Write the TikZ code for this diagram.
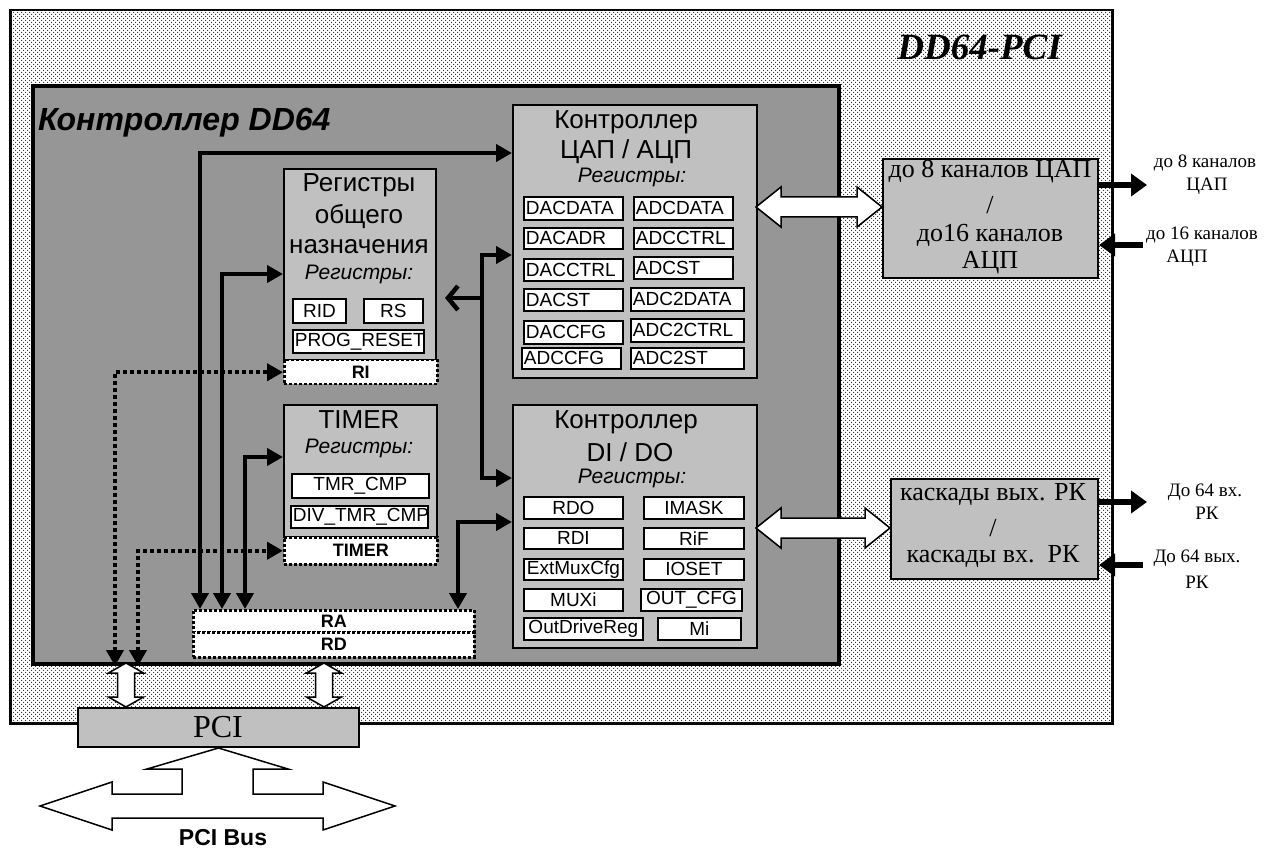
\documentclass[tikz,border=0pt]{standalone}
\usepackage{fontspec}
\newfontfamily\fsans{Liberation Sans}
\newfontfamily\fserif{Liberation Serif}
\usetikzlibrary{arrows.meta,patterns.meta}
\definecolor{ctrlgray}{HTML}{969696}
\definecolor{blkgray}{HTML}{C0C0C0}
\newcommand\regbox[7]{%
  \node[reg,anchor=north west,minimum height={(#5-#3)*1pt},text width={(#4-#2-4)*1pt},align=#6] (#1) at (#2,#3) {#7};}
\newcommand\dblH[3]{%
  \draw[warr] (#1,#3) -- (#1+25,#3-20) -- (#1+25,#3-10) -- (#2-25,#3-10) -- (#2-25,#3-20) -- (#2,#3)
   -- (#2-25,#3+20) -- (#2-25,#3+10) -- (#1+25,#3+10) -- (#1+25,#3+20) -- cycle;}
\newcommand\dblV[3]{%
  \draw[warr] (#1,#2) -- (#1+17.5,#2+10) -- (#1+8.5,#2+10) -- (#1+8.5,#3-10) -- (#1+17.5,#3-10) -- (#1,#3)
   -- (#1-17.5,#3-10) -- (#1-8.5,#3-10) -- (#1-8.5,#2+10) -- (#1-17.5,#2+10) -- cycle;}
\begin{document}
\begin{tikzpicture}[x=1pt,y=-1pt,
  boardbox/.style={draw,line width=2.5pt,fill=white,
    postaction={pattern={Dots[distance=4pt,radius=0.75pt]},pattern color=black!85},
    postaction={pattern={Dots[distance=4pt,radius=0.75pt,xshift=2pt,yshift=2pt]},pattern color=black!85}},
  ctrl/.style={draw,fill=ctrlgray,line width=4pt},
  blk/.style={draw,fill=blkgray,line width=2pt},
  reg/.style={draw,fill=white,line width=1.8pt,inner xsep=2pt,inner ysep=0pt,font=\fsans\fontsize{19pt}{21pt}\selectfont},
  dbox/.style={draw,fill=white,line width=2.5pt,dash pattern=on 3pt off 2pt,inner sep=0pt,font=\fsans\bfseries\fontsize{18pt}{20pt}\selectfont},
  ttl/.style={font=\fsans\fontsize{26pt}{30pt}\selectfont,inner sep=0pt},
  regs/.style={font=\fsans\itshape\fontsize{21pt}{24pt}\selectfont,inner sep=0pt},
  rtxt/.style={font=\fserif\fontsize{26pt}{30pt}\selectfont,inner sep=0pt},
  lab/.style={font=\fserif\fontsize{19pt}{22pt}\selectfont,inner sep=0pt},
  busarr/.style={line width=4.5pt,{Triangle[length=16pt,width=17pt]}-{Triangle[length=16pt,width=17pt]}},
  dotarr/.style={line width=4pt,dash pattern=on 4pt off 3pt,{Triangle[length=16pt,width=17pt]}-{Triangle[length=16pt,width=17pt]}},
  barbarr/.style={line width=4.5pt,-{Straight Barb[length=10pt,width=24pt,line width=4.5pt]}},
  sarr/.style={line width=6pt,-{Triangle[length=16pt,width=22pt]}},
  warr/.style={draw,fill=white,line width=1.5pt,line join=miter}]
\useasboundingbox (0,0) rectangle (1270,850);

% board
\node[boardbox,anchor=north west,minimum width=1102pt,minimum height=713pt] (board) at (9,9) {};
\node[font=\fserif\bfseries\itshape\fontsize{37pt}{40pt}\selectfont,anchor=east,inner sep=0pt] (boardT) at (1062,47) {DD64-PCI};

% controller
\node[ctrl,anchor=north west,minimum width=806pt,minimum height=578pt] (ctrl) at (31,84) {};
\node[font=\fsans\bfseries\itshape\fontsize{32pt}{35pt}\selectfont,anchor=west,inner sep=0pt] (ctrlT) at (38,123) {Контроллер DD64};

% general registers
\node[blk,anchor=north west,minimum width=152pt,minimum height=191pt] (gen) at (283,168) {};
\node[ttl] (genT1) at (359,185) {Регистры};
\node[ttl] (genT2) at (359,217) {общего};
\node[ttl] (genT3) at (359,247) {назначения};
\node[regs] (genR) at (359,274) {Регистры:};
\regbox{rid}{292}{298}{345}{322}{center}{RID}
\regbox{rs}{363}{298}{422}{322}{center}{RS}
\regbox{prog}{292}{329}{423}{352}{center}{PROG\_RESET}
\node[dbox,anchor=north west,minimum width=153pt,minimum height=24pt] (ri) at (283,359) {RI};

% timer
\node[blk,anchor=north west,minimum width=153pt,minimum height=132pt] (tim) at (283,404) {};
\node[ttl] (timT) at (359,420) {TIMER};
\node[regs] (timR) at (359,448) {Регистры:};
\regbox{tmr}{291}{473}{428}{497}{center}{TMR\_CMP}
\regbox{divtmr}{290}{505}{427}{527}{center}{DIV\_TMR\_CMP}
\node[dbox,anchor=north west,minimum width=153pt,minimum height=27pt] (timr) at (283,536) {TIMER};

% RA / RD
\node[dbox,anchor=north west,minimum width=281pt,minimum height=22pt] (ra) at (192,609) {RA};
\node[dbox,anchor=north west,minimum width=281pt,minimum height=25pt] (rd) at (192,631) {RD};

% DAC / ADC controller
\node[blk,anchor=north west,minimum width=244pt,minimum height=273pt] (dac) at (512,104) {};
\node[ttl] (dacT1) at (626,122) {Контроллер};
\node[ttl] (dacT2) at (626,152) {ЦАП / АЦП};
\node[regs] (dacR) at (632,177) {Регистры:};
\regbox{r1}{523}{196}{622}{219}{left}{DACDATA}
\regbox{r2}{523}{227}{622}{248}{left}{DACADR}
\regbox{r3}{523}{258}{622}{280}{left}{DACCTRL}
\regbox{r4}{523}{288}{622}{310}{left}{DACST}
\regbox{r5}{523}{320}{622}{343}{left}{DACCFG}
\regbox{r6}{521}{347}{620}{368}{left}{ADCCFG}
\regbox{r7}{633}{196}{732}{219}{left}{ADCDATA}
\regbox{r8}{633}{227}{732}{248}{left}{ADCCTRL}
\regbox{r9}{633}{256}{732}{278}{left}{ADCST}
\regbox{r10}{630}{287}{743}{310}{left}{ADC2DATA}
\regbox{r11}{630}{318}{743}{341}{left}{ADC2CTRL}
\regbox{r12}{630}{347}{743}{368}{left}{ADC2ST}

% DI / DO controller
\node[blk,anchor=north west,minimum width=244pt,minimum height=243pt] (dio) at (512,404) {};
\node[ttl] (dioT1) at (626,422) {Контроллер};
\node[ttl] (dioT2) at (630,452) {DI / DO};
\node[regs] (dioR) at (632,478) {Регистры:};
\regbox{d1}{523}{496}{622}{518}{center}{RDO}
\regbox{d2}{643}{496}{743}{518}{center}{IMASK}
\regbox{d3}{523}{527}{622}{548}{center}{RDI}
\regbox{d4}{643}{527}{743}{548}{center}{RiF}
\regbox{d5}{523}{558}{622}{579}{center}{ExtMuxCfg}
\regbox{d6}{643}{558}{743}{579}{center}{IOSET}
\regbox{d7}{523}{588}{622}{610}{center}{MUXi}
\regbox{d8}{640}{588}{741}{610}{center}{OUT\_CFG}
\regbox{d9}{523}{617}{642}{639}{center}{OutDriveReg}
\regbox{d10}{657}{617}{740}{639}{center}{Mi}

% right blocks
\node[blk,anchor=north west,minimum width=215pt,minimum height=119pt] (ch1) at (882,158) {};
\node[rtxt] (ch1a) at (990,172) {до 8 каналов ЦАП};
\node[rtxt] (ch1b) at (990,205) {/};
\node[rtxt] (ch1c) at (990,235) {до16 каналов};
\node[rtxt] (ch1d) at (990,263) {АЦП};
\node[blk,anchor=north west,minimum width=207pt,minimum height=100pt] (ch2) at (890,478) {};
\node[rtxt] (ch2a) at (993,495) {каскады вых. РК};
\node[rtxt] (ch2b) at (993,528) {/};
\node[rtxt] (ch2c) at (993,557) {каскады вх.~~РК};

% PCI
\node[blk,anchor=north west,minimum width=281pt,minimum height=39pt] (pci) at (77,707) {};
\node[font=\fserif\fontsize{32pt}{36pt}\selectfont,inner sep=0pt] (pciT) at (218,727) {PCI};
\node[font=\fsans\bfseries\fontsize{23pt}{26pt}\selectfont,inner sep=0pt] (busT) at (223,838) {PCI Bus};

% internal bus arrows
\draw[busarr] (ra.north -| 200,0) |- (dac.west |- 0,153);
\draw[busarr] (ra.north -| 222,0) |- (gen.west |- 0,274);
\draw[busarr] (ra.north -| 245,0) |- (tim.west |- 0,457);
\draw[busarr] (dac.west |- 0,255) -- (482,255) -- (482,478) -- (dio.west |- 0,478);
\draw[barbarr,shorten >=8pt] (482,298) -- (gen.east |- 0,298);
\draw[busarr] (ra.north -| 458,0) |- (dio.west |- 0,522);
\draw[dotarr] (ctrl.south -| 115,0) |- (ri.west);
\draw[dotarr] (ctrl.south -| 138,0) |- (timr.west);

% white arrows
\dblH{756}{882}{207}
\dblH{756}{890}{528}
\dblV{126}{663}{707}
\dblV{324}{663}{707}
\draw[warr] (pci.south) -- (288,769) -- (253,769) -- (253,794) -- (323,794) -- (323,782) -- (395,806)
  -- (323,830) -- (323,818) -- (112,818) -- (112,830) -- (40,806) -- (112,782) -- (112,794)
  -- (182,794) -- (182,769) -- (147,769) -- cycle;

% outside channels
\coordinate (o1) at (1147,185);
\coordinate (i1) at (1143,245);
\coordinate (o2) at (1147,502);
\coordinate (i2) at (1143,565);
\draw[sarr] (ch1.east |- o1) -- (o1);
\draw[sarr] (i1) -- (ch1.east |- i1);
\draw[sarr] (ch2.east |- o2) -- (o2);
\draw[sarr] (i2) -- (ch2.east |- i2);
\node[lab] (l1a) at (1205,163) {до 8 каналов};
\node[lab] (l1b) at (1207,186) {ЦАП};
\node[lab] (l2a) at (1202,235) {до 16 каналов};
\node[lab] (l2b) at (1187,258) {АЦП};
\node[lab] (l3a) at (1205,492) {До 64 вх.};
\node[lab] (l3b) at (1207,513) {РК};
\node[lab] (l4a) at (1197,558) {До 64 вых.};
\node[lab] (l4b) at (1197,582) {РК};
\end{tikzpicture}
\end{document}
